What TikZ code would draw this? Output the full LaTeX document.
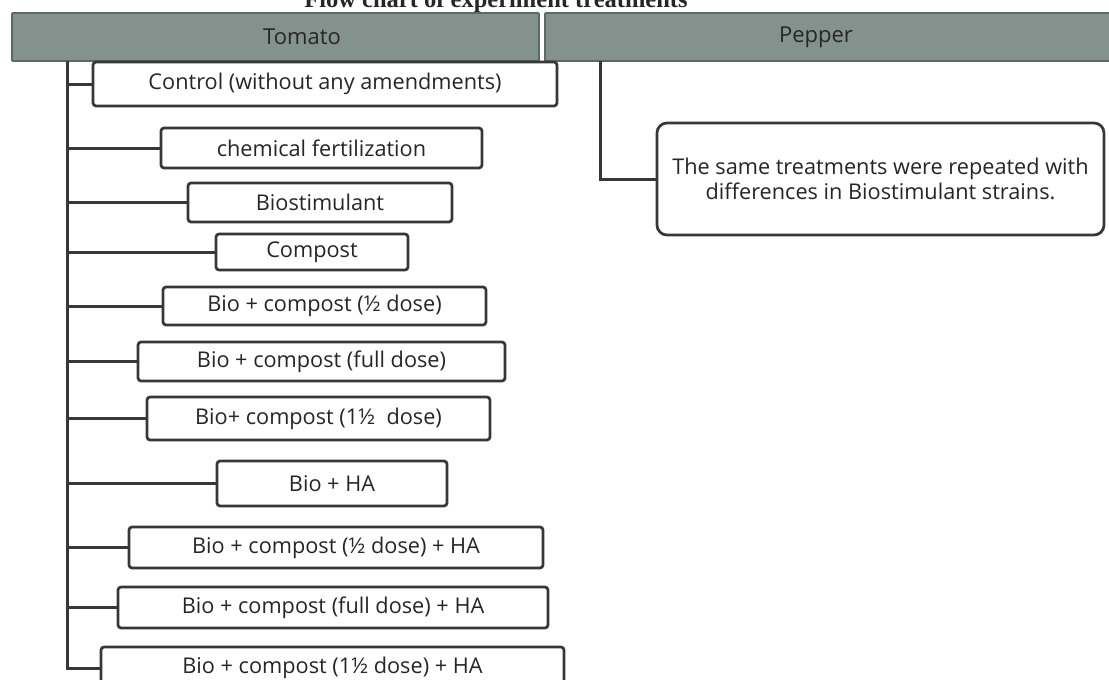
\documentclass[tikz,border=0pt]{standalone}
\usepackage{fontspec}
\setmainfont{Open Sans}
\newfontfamily\titlefont{Liberation Serif}
\definecolor{linec}{HTML}{353837}
\definecolor{txt}{HTML}{262626}
\definecolor{barfill}{HTML}{84928E}
\definecolor{bardraw}{HTML}{5E6865}
\tikzset{
  boxtext/.style={font=\fontsize{21.7}{25}\selectfont, text=txt},
  tbox/.style={boxtext, draw=linec, line width=2.7pt, rounded corners=3pt, fill=white, inner sep=0pt},
  pbox/.style={boxtext, draw=linec, line width=2.7pt, rounded corners=10pt, fill=white, inner sep=0pt, align=center},
  barbox/.style={draw=bardraw, line width=1.8pt, fill=barfill, inner sep=0pt, rounded corners=1pt},
  bartext/.style={font=\fontsize{22}{25}\selectfont, text=txt},
  conn/.style={draw=linec, line width=3pt},
}
\newcommand{\tb}[6]{\node[tbox, minimum width={(#4-#2)*1pt}, minimum height={(#5-#3)*1pt}] (#1) at ({(#2+#4)/2},{(#3+#5)/2}) {#6};}
\begin{document}
\begin{tikzpicture}[x=1pt,y=-1pt]
\useasboundingbox (0,0) rectangle (1109,680);
\fill[white] (0,0) rectangle (1109,680);
% title (cropped at top, as in the reference)
\node[font=\titlefont\bfseries\fontsize{24.5}{28}\selectfont, text=black!85, anchor=base, inner sep=0pt] (title) at (496,7) {Flow chart of experiment treatments};
% header bars
\node[barbox, minimum width=527pt, minimum height=48pt] (tom) at (275.5,37) {};
\node[barbox, minimum width=570pt, minimum height=48pt] (pep) at (830,37) {};
\node[bartext] (tomtext) at (302,37) {Tomato};
\node[bartext] (peptext) at (816,37) {Pepper};
% tomato boxes
\tb{b1}{93}{62}{557}{106}{Control (without any amendments)}
\tb{b2}{161}{128}{482}{168}{chemical fertilization}
\tb{b3}{188}{183}{452}{222}{Biostimulant}
\tb{b4}{216}{234}{408}{270}{Compost}
\tb{b5}{163}{287}{486}{325}{Bio + compost (½ dose)}
\tb{b6}{138}{342}{505}{381}{Bio + compost (full dose)}
\tb{b7}{147}{397}{490}{440}{Bio+ compost (1½\ \ dose)}
\tb{b8}{217}{461}{447}{506}{Bio + HA}
\tb{b9}{129}{527}{543}{568}{Bio + compost (½ dose) + HA}
\tb{b10}{118}{587}{548}{628}{Bio + compost (full dose) + HA}
\tb{b11}{101}{647}{564}{689}{Bio + compost (1½ dose) + HA}
% pepper box
\node[pbox, minimum width=447pt, minimum height=112pt] (pb) at (880.5,179) {The same treatments were repeated with\\differences in Biostimulant strains.};
% connectors
\coordinate (tv) at (67,61);
\coordinate (pv) at (600,61);
\draw[conn] (tv) |- (b11.west);
\foreach \b in {b1,b2,b3,b4,b5,b6,b7,b8,b9,b10}{
  \draw[conn] (tv |- \b.west) -- (\b.west);
}
\draw[conn] (pv) |- (pb.west);
\end{tikzpicture}
\end{document}
